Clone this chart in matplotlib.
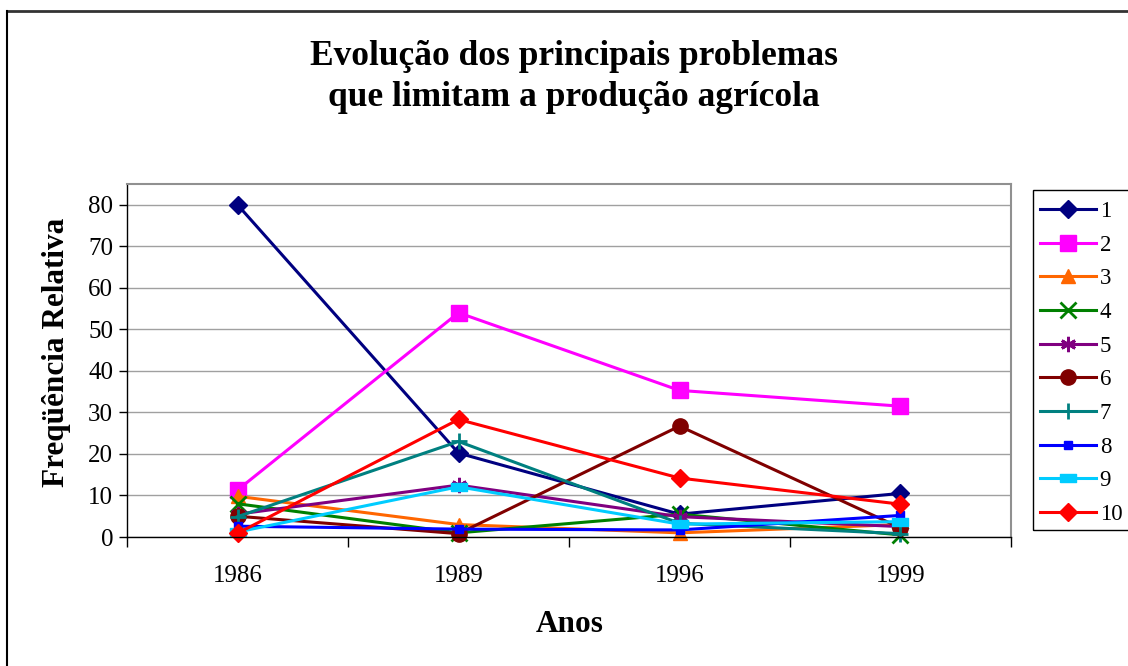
import matplotlib.pyplot as plt
from matplotlib.patches import Rectangle
from matplotlib.lines import Line2D

plt.rcParams['font.family'] = ['Liberation Serif', 'DejaVu Serif']

# data
anos = ['1986', '1989', '1996', '1999']
p1 = [80.0, 20.2, 5.5, 10.5]
p2 = [11.3, 54.0, 35.3, 31.5]
p3 = [9.8, 3.0, 1.0, 3.0]
p4 = [8.0, 1.0, 5.5, 0.5]
p5 = [5.5, 12.5, 4.9, 2.5]
p6 = [5.0, 0.8, 26.7, 2.2]
p7 = [4.9, 23.0, 3.3, 0.8]
p8 = [2.6, 1.9, 1.7, 5.2]
p9 = [1.2, 12.1, 3.1, 3.7]
p10 = [0.9, 28.3, 14.2, 7.9]

series = [p1, p2, p3, p4, p5, p6, p7, p8, p9, p10]
nomes = ['1', '2', '3', '4', '5', '6', '7', '8', '9', '10']
cores = ['#000080', '#FF00FF', '#FF6600', '#008000', '#800080',
         '#800000', '#008080', '#0000FF', '#00CCFF', '#FF0000']
barra = [(-1, -0.45), (1, -0.45), (1, 0.45), (-1, 0.45), (-1, -0.45)]
marcas = ['D', 's', '^', 'x', (6, 2, 0), 'o', '+', 's', barra, 'D']
tamanhos = [9, 11, 10, 11, 11, 11, 12, 6, 12, 9]

fig = plt.figure(figsize=(11.28, 6.66), dpi=100)
ax = fig.add_axes([127 / 1128, 1 - 537 / 666, (1011 - 127) / 1128, (537 - 184) / 666])

x = list(range(len(anos)))
handles = []
for s, nome, c, m, ms in zip(series, nomes, cores, marcas, tamanhos):
    h, = ax.plot(x, s, color=c, lw=2.2, marker=m, markersize=ms,
                 markeredgewidth=2 if m in ('x', '+', (6, 2, 0)) else 1,
                 markerfacecolor=c, markeredgecolor=c, label=nome, clip_on=False)
    handles.append(h)

ax.set_xlim(-0.5, 3.5)
ax.set_ylim(0, 85)
ax.set_yticks(range(0, 90, 10))
ax.set_xticks([-0.5, 0.5, 1.5, 2.5, 3.5])
ax.set_xticklabels([])
ax.set_xticks(x, minor=True)
ax.set_xticklabels(anos, minor=True)
ax.tick_params(axis='x', which='major', length=7, width=1, direction='out')
ax.tick_params(axis='x', which='minor', length=0, pad=20, labelsize=18)
ax.tick_params(axis='y', length=6, width=1, pad=4, labelsize=18)
ax.grid(axis='y', color='#a0a0a0', lw=1)
ax.set_axisbelow(True)
for lado in ['top', 'right']:
    ax.spines[lado].set_color('#909090')
    ax.spines[lado].set_linewidth(1.5)
for lado in ['left', 'bottom']:
    ax.spines[lado].set_color('black')
    ax.spines[lado].set_linewidth(1)

fig.text(57 / 1128, 1 - 352 / 666, 'Freqüência Relativa', rotation=90,
         ha='center', va='center', fontsize=22.5, fontweight='bold')
fig.text(570 / 1128, 1 - 625 / 666, 'Anos', ha='center', va='center',
         fontsize=22.5, fontweight='bold')
fig.text(574 / 1128, 1 - 77 / 666,
         'Evolução dos principais problemas\nque limitam a produção agrícola',
         ha='center', va='center', fontsize=25.5, fontweight='bold', linespacing=1.32)

leg = fig.legend(handles=handles, loc='upper left',
                 bbox_to_anchor=(1031 / 1128, 1 - 192 / 666),
                 frameon=False, fontsize=16.5, handlelength=2.45,
                 handletextpad=0.15, labelspacing=0.55, borderaxespad=0)
fig.add_artist(Rectangle((1033 / 1128, 1 - 530 / 666), 0.2, (530 - 190) / 666,
                         transform=fig.transFigure, fill=False,
                         edgecolor='black', lw=1))

# outer chart border (cropped on right and bottom)
fig.add_artist(Line2D([7 / 1128, 1.0], [1 - 11 / 666, 1 - 11 / 666],
                      transform=fig.transFigure, color='#333333', lw=2))
fig.add_artist(Line2D([7 / 1128, 7 / 1128], [0, 1 - 11 / 666],
                      transform=fig.transFigure, color='black', lw=1.5))

fig.savefig('out.png', dpi=100)
